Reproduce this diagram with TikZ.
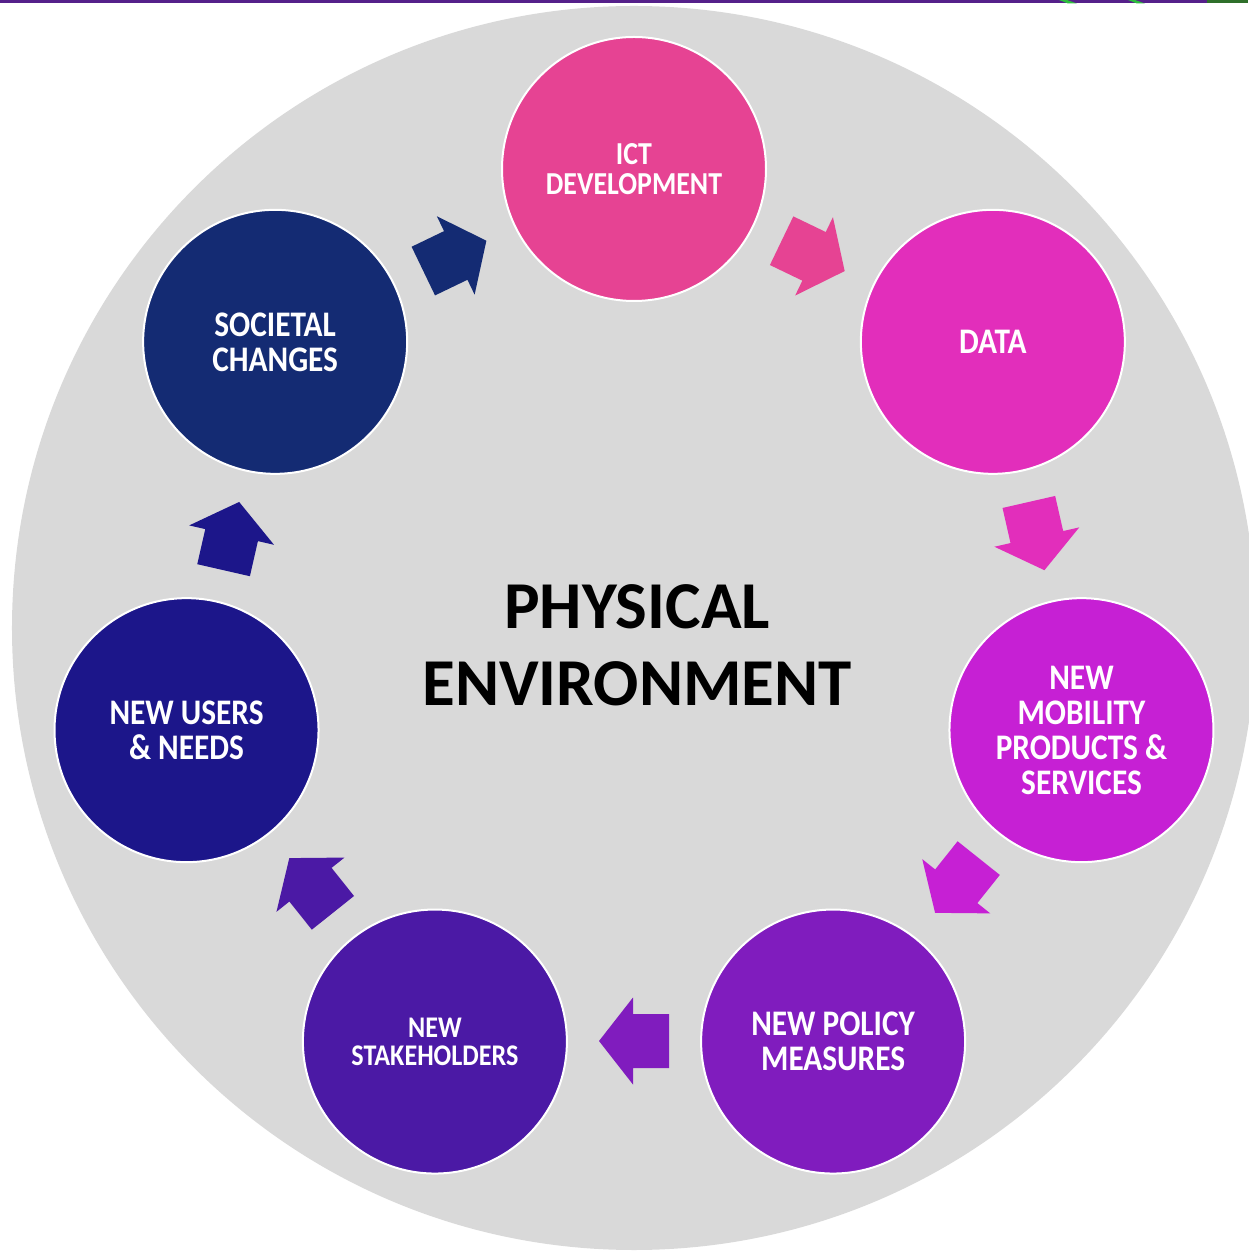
\documentclass[tikz,border=0pt]{standalone}
\usepackage{fontspec}
\setmainfont{Carlito}
\newfontfamily\stagefont{Carlito}[FakeStretch=0.87]
\usepackage{tikz}

\definecolor{ictpink}{HTML}{E64393}
\definecolor{datapink}{HTML}{E22EBB}
\definecolor{mobviolet}{HTML}{C620D4}
\definecolor{policypurple}{HTML}{801CBE}
\definecolor{stakepurple}{HTML}{4B19A5}
\definecolor{usersblue}{HTML}{1C168A}
\definecolor{societalblue}{HTML}{142B73}
\definecolor{envgrey}{HTML}{D9D9D9}
\definecolor{barpurple}{HTML}{55208A}
\definecolor{bargreen}{HTML}{2DBE3C}
\definecolor{bardark}{HTML}{2F6F2A}

\tikzset{
  stage/.style={circle, draw=white, line width=1pt, minimum size=132pt, inner sep=0pt,
    text=white, align=center, font=\stagefont\bfseries\fontsize{18pt}{17.5pt}\selectfont},
  smallstage/.style={stage, font=\stagefont\bfseries\fontsize{16pt}{15pt}\selectfont},
  tinystage/.style={stage, font=\stagefont\bfseries\fontsize{15pt}{14pt}\selectfont},
  blockarrow/.pic={
    \fill (-35,-27) -- (1,-27) -- (1,-43.5) -- (35,0) -- (1,43.5) -- (1,27) -- (-35,27) -- cycle;
  }
}

\begin{document}
\begin{tikzpicture}[x=0.5pt, y=0.5pt]
  \useasboundingbox (-634,-623) rectangle (614,628);

  % strip at the top
  \fill[barpurple] (-634,628) rectangle (614,624.5);
  \fill[bargreen] (425,628) -- (433,628) -- (443,624.5) -- (434,624.5) -- cycle;
  \fill[bargreen] (494,628) -- (501,628) -- (511,624.5) -- (503,624.5) -- cycle;
  \fill[bardark] (573,628) rectangle (614,624.5);

  % environment
  \coordinate (centre) at (0,0);
  \fill[envgrey] (centre) circle (622);
  \node[font=\bfseries\fontsize{33.5pt}{38.5pt}\selectfont, align=center, inner sep=0pt] (env)
    at (3,-17) {PHYSICAL\\ENVIRONMENT};

  % stages
  \node[smallstage, fill=ictpink] (ict) at (90:459) {ICT\\DEVELOPMENT};
  \node[stage, fill=datapink] (data) at (38.57:459) {DATA};
  \node[stage, fill=mobviolet] (mobility) at (-12.86:459) {NEW\\MOBILITY\\PRODUCTS \&\\SERVICES};
  \node[stage, fill=policypurple] (policy) at (-64.29:459) {NEW POLICY\\MEASURES};
  \node[tinystage, fill=stakepurple] (stakeholders) at (-115.71:459) {NEW\\STAKEHOLDERS};
  \node[stage, fill=usersblue] (users) at (-167.14:459) {NEW USERS\\\& NEEDS};
  \node[stage, fill=societalblue] (societal) at (141.43:459) {SOCIETAL\\CHANGES};

  % arrows between stages
  \pic[fill=ictpink, rotate=-25.71] at (64.29:413) {blockarrow};
  \pic[fill=datapink, rotate=-77.14] at (12.86:413) {blockarrow};
  \pic[fill=mobviolet, rotate=-128.57] at (-38.57:413) {blockarrow};
  \pic[fill=policypurple, rotate=180] at (-90:413) {blockarrow};
  \pic[fill=stakepurple, rotate=128.57] at (-141.43:413) {blockarrow};
  \pic[fill=usersblue, rotate=77.14] at (167.14:413) {blockarrow};
  \pic[fill=societalblue, rotate=25.71] at (115.71:413) {blockarrow};
\end{tikzpicture}
\end{document}
